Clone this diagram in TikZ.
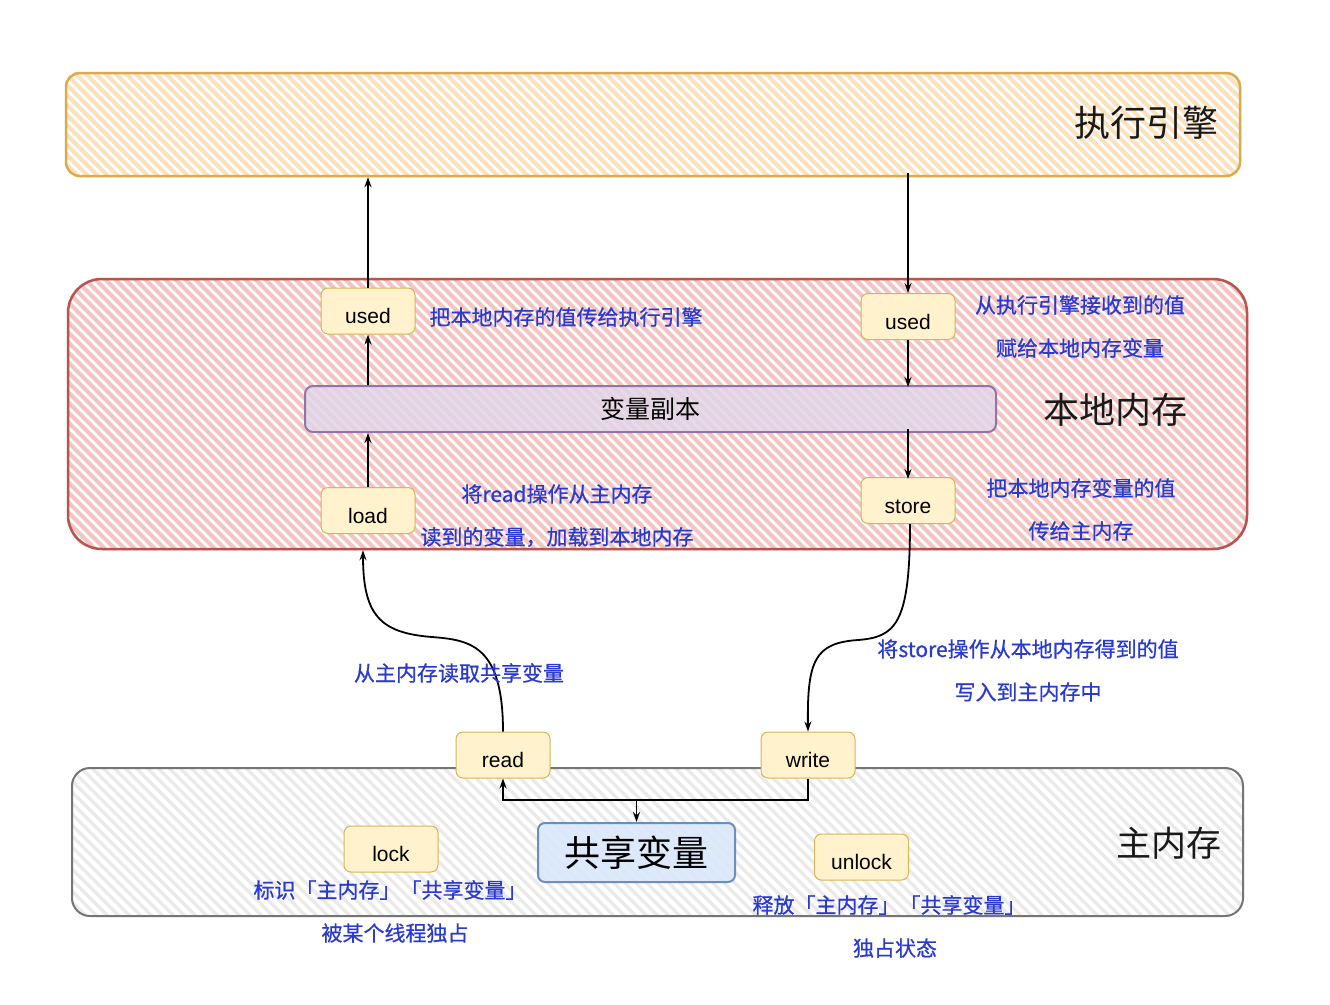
\documentclass[tikz,border=0pt]{standalone}
\usepackage{fontspec}
\setmainfont{Liberation Sans}
\newfontfamily\cjk{Noto Sans CJK SC}
\newfontfamily\cjknote[FakeBold=0.7]{Noto Sans CJK SC}
\usetikzlibrary{arrows.meta,backgrounds}

\definecolor{engStroke}{HTML}{D9AC4E}
\definecolor{engHatch}{HTML}{FBE1BC}
\definecolor{locStroke}{HTML}{B85450}
\definecolor{locHatch}{HTML}{F2C4C2}
\definecolor{mainStroke}{HTML}{757575}
\definecolor{mainHatch}{HTML}{EAEAEA}
\definecolor{opFill}{HTML}{FFF2CC}
\definecolor{opStroke}{HTML}{D6B656}
\definecolor{copyFill}{HTML}{E1D5E7}
\definecolor{copyStroke}{HTML}{9673A6}
\definecolor{sharedFill}{HTML}{DAE8FC}
\definecolor{sharedStroke}{HTML}{6C8EBF}
\definecolor{note}{HTML}{2A3AD0}

\tikzset{
  region/.style={draw, inner sep=0pt, line width=2.5pt},
  opbox/.style={draw=opStroke, fill=opFill, rounded corners=7pt, line width=1pt,
    minimum width=94pt, minimum height=46pt, inner sep=0pt,
    text height=25pt, text depth=0pt,
    font=\fontsize{21}{24}\selectfont},
  title/.style={font=\cjk\fontsize{36}{40}\selectfont, text=black!90},
  notetext/.style={font=\cjknote\fontsize{21}{24}\selectfont, text=note, inner sep=0pt},
  arr/.style={line width=1.8pt, -{Stealth[length=10pt,width=7pt]}},
}

\begin{document}
\begin{tikzpicture}[x=1pt,y=-1pt]
\useasboundingbox (0,0) rectangle (1330,1004);

% ---- large regions
\node[region, draw=engStroke, rounded corners=14pt, minimum width=1174pt, minimum height=103pt]
  (engine) at (653,124.5) {};
\node[region, draw=locStroke, rounded corners=34pt, minimum width=1179pt, minimum height=270pt]
  (local) at (657.5,414) {};
\node[region, draw=mainStroke, line width=2pt, rounded corners=18pt, minimum width=1171pt, minimum height=148pt]
  (main) at (657.5,842) {};

% ---- hatched fills behind the regions
\begin{scope}[on background layer]
  \begin{scope}
    \clip[rounded corners=14pt] (engine.north west) rectangle (engine.south east);
    \foreach \k in {-60,-50,...,1250}
      \draw[engHatch, line width=4pt] (\k,68) -- ++(115,115);
  \end{scope}
  \begin{scope}
    \clip[rounded corners=34pt] (local.north west) rectangle (local.south east);
    \foreach \k in {-230,-220,...,1260}
      \draw[locHatch, line width=4.2pt] (\k,274) -- ++(280,280);
  \end{scope}
  \begin{scope}
    \clip[rounded corners=18pt] (main.north west) rectangle (main.south east);
    \foreach \k in {-110,-99,...,1260}
      \draw[mainHatch, line width=3.5pt] (\k,764) -- ++(156,156);
  \end{scope}
\end{scope}

% ---- region titles
\node[title] (engineTitle) at (1146,123) {执行引擎};
\node[title] (localTitle) at (1115,410) {本地内存};
\node[title, font=\cjk\fontsize{35}{40}\selectfont] (mainTitle) at (1169,843) {主内存};

% ---- inner boxes
\node[draw=copyStroke, fill=copyFill, fill opacity=0.85, text opacity=1, line width=2pt,
  rounded corners=8pt, minimum width=691pt, minimum height=46pt, inner sep=0pt,
  font=\cjk\fontsize{25}{28}\selectfont] (copy) at (650.5,409) {变量副本};
\node[draw=sharedStroke, fill=sharedFill, fill opacity=0.9, text opacity=1, line width=2pt,
  rounded corners=7pt, minimum width=197pt, minimum height=59pt, inner sep=0pt,
  font=\cjk\fontsize{36}{40}\selectfont] (shared) at (636.5,852.5) {共享变量};

% ---- operations
\node[opbox] (usedL) at (368,311) {used};
\node[opbox] (usedR) at (908,316.5) {used};
\node[opbox] (load)  at (368,510.5) {load};
\node[opbox] (store) at (908,500.5) {store};
\node[opbox] (read)  at (503,755) {read};
\node[opbox] (write) at (808,755) {write};
\node[opbox] (lock)  at (391,849) {lock};
\node[opbox] (unlock) at (861.5,857) {unlock};

% ---- connectors
\draw[arr] (usedL.north) -- (usedL.north |- engine.south);
\draw[arr] (copy.north -| usedL) -- (usedL.south);
\draw[arr] (load.north) -- (copy.south -| load);
\draw[arr] ([yshift=4pt]usedR.north |- engine.south) -- (usedR.north);
\draw[arr] (usedR.south) -- ([yshift=-2pt]copy.north -| usedR);
\draw[arr] ([yshift=4pt]copy.south -| store) -- ([yshift=-2pt]store.north);

\draw[arr] (read.north) .. controls (503,645) and (470,640) .. (432,637)
  .. controls (380,633) and (363,615) .. ([xshift=-5pt]local.south -| load);
\draw[arr] ([xshift=2pt]store.south) .. controls (910,625) and (895,637) .. (858,640)
  .. controls (815,643) and (807,660) .. (write.north);

\coordinate (junc) at (636.5,800);
\draw[arr] (write.south) -- (write.south |- junc) -- (read.south |- junc) -- (read.south);
\draw[arr] (junc) -- (shared.north);

% ---- notes
\node[notetext] (nUsedL) at (566,317) {把本地内存的值传给执行引擎};
\node[notetext] (nUsedR1) at (1080,305) {从执行引擎接收到的值};
\node[notetext] (nUsedR2) at (1080,348) {赋给本地内存变量};
\node[notetext] (nLoad1) at (557,494) {将read操作从主内存};
\node[notetext] (nLoad2) at (557,537) {读到的变量，加载到本地内存};
\node[notetext] (nStore1) at (1081,488) {把本地内存变量的值};
\node[notetext] (nStore2) at (1081,531) {传给主内存};
\node[notetext] (nRead) at (459,673) {从主内存读取共享变量};
\node[notetext] (nWrite1) at (1028,649) {将store操作从本地内存得到的值};
\node[notetext] (nWrite2) at (1028,692) {写入到主内存中};
\node[notetext] (nLock1) at (390,890) {标识「主内存」「共享变量」};
\node[notetext] (nLock2) at (395,933) {被某个线程独占};
\node[notetext] (nUnlock1) at (889,905) {释放「主内存」「共享变量」};
\node[notetext] (nUnlock2) at (895,948) {独占状态};
\end{tikzpicture}
\end{document}
